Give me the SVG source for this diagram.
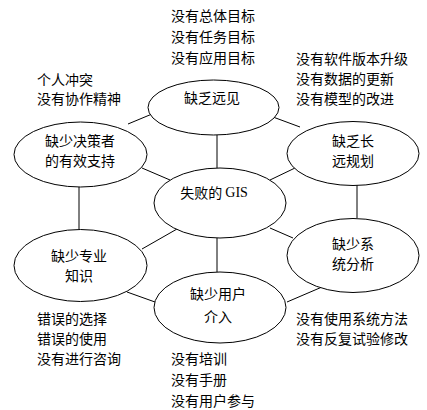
<svg xmlns="http://www.w3.org/2000/svg" width="427" height="410" viewBox="0 0 427 410">
<style>
.n{fill:#fff;stroke:#000;stroke-width:1}
.c line{stroke:#000;stroke-width:1}
text{font-family:"Noto Sans CJK SC","Liberation Sans",sans-serif;font-size:14px;fill:#000;dominant-baseline:central}
.m{text-anchor:middle}
.s{font-family:"Liberation Serif",serif;font-size:14px}
</style>
<rect width="427" height="410" fill="#fff"/>
<g class="c" id="connectors">
<line x1="217" y1="135" x2="217" y2="168"/>
<line x1="152" y1="114" x2="128" y2="124"/>
<line x1="273" y1="117" x2="300" y2="127"/>
<line x1="142" y1="168" x2="170" y2="180"/>
<line x1="295" y1="168" x2="270" y2="180"/>
<line x1="79" y1="187" x2="79" y2="229"/>
<line x1="357" y1="185" x2="357" y2="218"/>
<line x1="177" y1="229" x2="142" y2="249"/>
<line x1="270" y1="228" x2="293" y2="238"/>
<line x1="217" y1="238" x2="217" y2="272"/>
<line x1="127" y1="292" x2="155" y2="302"/>
<line x1="322" y1="287" x2="287" y2="302"/>
</g>
<g id="vision">
<ellipse class="n" cx="213.5" cy="107.5" rx="65.5" ry="27.5"/>
<text class="m" x="212" y="97">缺乏远见</text>
</g>
<g id="center">
<ellipse class="n" cx="220" cy="203" rx="66" ry="35"/>
<text class="m" x="214" y="192">失败的 <tspan class="s">GIS</tspan></text>
</g>
<g id="support">
<ellipse class="n" cx="80.5" cy="154.5" rx="66.5" ry="32.5"/>
<text class="m" x="80" y="140">缺少决策者</text>
<text class="m" x="80" y="160">的有效支持</text>
</g>
<g id="planning">
<ellipse class="n" cx="353" cy="153.5" rx="66" ry="32"/>
<text class="m" x="353" y="140">缺乏长</text>
<text class="m" x="353" y="160">远规划</text>
</g>
<g id="knowledge">
<ellipse class="n" cx="80.5" cy="265.5" rx="66.5" ry="36"/>
<text class="m" x="79" y="255">缺少专业</text>
<text class="m" x="79" y="275">知识</text>
</g>
<g id="analysis">
<ellipse class="n" cx="353" cy="255.5" rx="66" ry="37"/>
<text class="m" x="353" y="243">缺少系</text>
<text class="m" x="353" y="263">统分析</text>
</g>
<g id="user">
<ellipse class="n" cx="220" cy="307.5" rx="66" ry="35.5"/>
<text class="m" x="218" y="293">缺少用户</text>
<text class="m" x="218" y="316">介入</text>
</g>
<g id="notes">
<text x="171" y="15">没有总体目标</text>
<text x="171" y="36">没有任务目标</text>
<text x="171" y="57">没有应用目标</text>
<text x="296" y="58">没有软件版本升级</text>
<text x="296" y="78">没有数据的更新</text>
<text x="296" y="98">没有模型的改进</text>
<text x="37" y="79">个人冲突</text>
<text x="37" y="98">没有协作精神</text>
<text x="37" y="318">错误的选择</text>
<text x="37" y="338">错误的使用</text>
<text x="37" y="358">没有进行咨询</text>
<text x="296" y="318">没有使用系统方法</text>
<text x="296" y="338">没有反复试验修改</text>
<text x="171" y="358">没有培训</text>
<text x="171" y="379">没有手册</text>
<text x="171" y="400">没有用户参与</text>
</g>
</svg>
